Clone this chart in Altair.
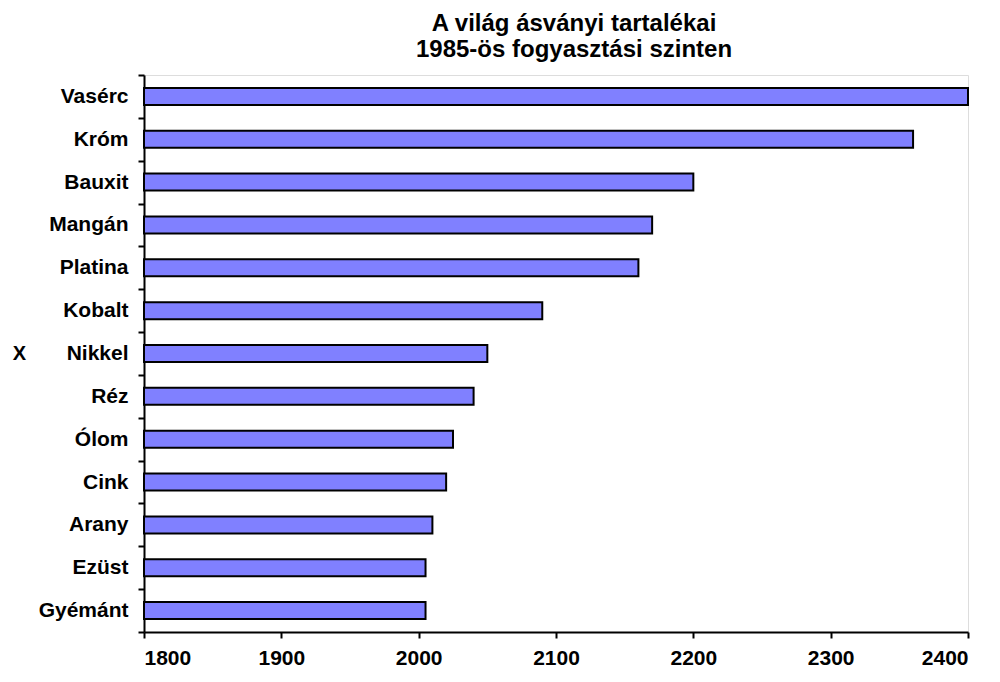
import altair as alt
import pandas as pd

minerals = ["Vasérc", "Króm", "Bauxit", "Mangán", "Platina", "Kobalt", "Nikkel",
            "Réz", "Ólom", "Cink", "Arany", "Ezüst", "Gyémánt"]
years = [2400, 2360, 2200, 2170, 2160, 2090, 2050, 2040, 2025, 2020, 2010, 2005, 2005]
x_ticks = [1800, 1900, 2000, 2100, 2200, 2300, 2400]
title_lines = ["A világ ásványi tartalékai", "1985-ös fogyasztási szinten"]

df = pd.DataFrame({"ásvány": minerals, "év": years})

FONT = "Liberation Sans"
W, H = 824, 557

chart = alt.Chart(df).mark_bar(
    size=17, color="#8080FF", stroke="black", strokeWidth=2
).encode(
    y=alt.Y("ásvány:N", sort=minerals,
            scale=alt.Scale(paddingInner=0, paddingOuter=0),
            axis=alt.Axis(title="X", titleAngle=0, titleX=-125, titleY=H / 2,
                          titleAlign="center", titleBaseline="middle",
                          titleFont=FONT, titleFontSize=20, titleFontWeight="bold",
                          titleColor="black",
                          labelFont=FONT, labelFontSize=21, labelFontWeight="bold",
                          labelColor="black", labelPadding=10,
                          tickBand="extent", tickSize=6, tickWidth=2, tickColor="black",
                          domainColor="black", domainWidth=2)),
    x=alt.X("év:Q",
            scale=alt.Scale(domain=[1800, 2400], zero=False, nice=False),
            axis=alt.Axis(title=None, values=x_ticks, format="d",
                          labelFont=FONT, labelFontSize=21, labelFontWeight="bold",
                          labelColor="black", labelPadding=9,
                          tickSize=6, tickWidth=2, tickColor="black",
                          domainColor="black", domainWidth=2, grid=False)),
    x2=alt.datum(1800),
).properties(
    width=W, height=H,
    title=alt.TitleParams(title_lines, font=FONT, fontSize=24, fontWeight="bold",
                          color="black", anchor="middle", dx=18, offset=2,
                          lineHeight=26),
    autosize=alt.AutoSizeParams(type="none"),
    padding={"left": 136, "top": 67, "right": 24, "bottom": 38},
).configure_view(stroke=None).configure(background="white")

chart.save("out.html", embed_options={"renderer": "svg", "actions": False})
